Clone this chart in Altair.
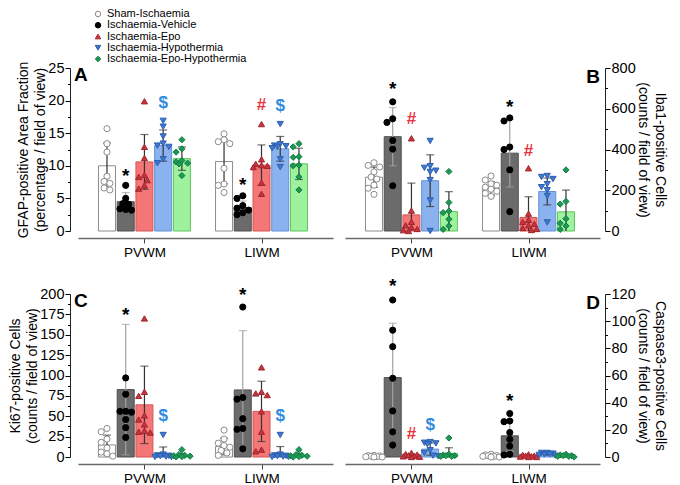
import altair as alt
import pandas as pd

GROUPS = ["PVWM", "LIWM"]
CONDS = ["Sham-Ischaemia", "Ischaemia-Vehicle", "Ischaemia-Epo",
         "Ischaemia-Hypothermia", "Ischaemia-Epo-Hypothermia"]

# ---- Panel A: GFAP-positive area fraction ----
A_PVWM_PTS = [[15.7, 13.4, 12.1, 8.4, 7.6, 7.3, 6.6, 6.3],
              [7.0, 5.0, 4.2, 4.1, 3.4, 3.3, 3.2],
              [19.9, 12.9, 11.2, 8.6, 8.3, 7.8, 7.0, 6.5],
              [16.9, 16.0, 14.5, 13.4, 13.1, 12.9, 11.0, 10.4],
              [14.0, 12.6, 12.1, 10.8, 10.6, 10.4, 10.3, 8.5]]
A_LIWM_PTS = [[14.9, 14.0, 13.7, 13.4, 9.6, 7.2, 7.0, 5.9],
              [5.4, 5.0, 3.9, 3.5, 3.2, 2.8, 2.5],
              [16.4, 11.0, 10.3, 10.1, 10.0, 9.8, 7.4, 5.7],
              [16.4, 13.3, 13.1, 13.0, 12.9, 12.7, 11.0, 9.8],
              [13.4, 12.9, 11.4, 11.3, 10.1, 10.0, 8.3, 6.3]]
A_MEAN = [[10.0, 4.5, 10.6, 13.1, 11.1], [10.65, 3.6, 10.1, 12.6, 10.3]]
A_SD = [[3.5, 1.4, 4.2, 2.4, 1.8], [3.4, 1.0, 3.1, 1.9, 2.4]]
A_SIG = [("PVWM", 1, "*", 9.1), ("PVWM", 3, "$", 19.6), ("LIWM", 1, "*", 7.6),
         ("LIWM", 2, "#", 19.4), ("LIWM", 3, "$", 19.1)]

# ---- Panel B: Iba1-positive cells ----
B_PVWM_PTS = [[335, 322, 314, 290, 265, 255, 225, 210, 180],
              [634, 551, 533, 444, 402, 222],
              [455, 100, 45, 28, 18, 10, 4, 0],
              [442, 318, 310, 296, 290, 250, 150, 0],
              [292, 140, 98, 90, 58, 25, 8]]
B_LIWM_PTS = [[270, 250, 232, 225, 215, 205, 195, 185, 170],
              [555, 540, 412, 400, 300, 95],
              [308, 85, 55, 45, 35, 28, 15, 10, 5],
              [270, 265, 255, 230, 215, 200, 172, 42],
              [300, 145, 132, 60, 38, 25, 8]]
B_MEAN = [[264, 463, 79, 247, 95], [209, 382, 66, 194, 94]]
B_SD = [[50, 143, 156, 127, 98], [33, 166, 102, 66, 107]]
B_SIG = [("PVWM", 1, "*", 716), ("PVWM", 2, "#", 551),
         ("LIWM", 1, "*", 629), ("LIWM", 2, "#", 392)]

# ---- Panel C: Ki67-positive cells ----
C_PVWM_PTS = [[35, 31, 22, 18, 11, 6, 4, 1],
              [97, 77, 56, 56, 55, 46, 36, 24],
              [170, 80, 75, 51, 46, 40, 32, 31, 30],
              [27, 3, 2, 1.5, 1, 0.5, 0, 0],
              [9, 3, 2, 1.5, 1, 0.5, 0]]
C_LIWM_PTS = [[33, 22, 17, 14, 12, 8, 5, 2],
              [184, 73, 71, 47, 35, 34, 10],
              [110, 80, 78, 76, 56, 31, 9, 7],
              [27, 3, 2, 1.5, 1, 0.5, 0, 0],
              [9, 3, 2, 1.5, 1, 0.5, 0]]
C_MEAN = [[14.8, 82.7, 64, 3.3, 2], [12.8, 82.3, 56, 2.5, 2]]
C_SD = [[12, 80, 47.5, 9, 2.5], [10.2, 72.7, 37, 10.3, 2.5]]
C_SIG = [("PVWM", 1, "*", 179), ("PVWM", 3, "$", 50),
         ("LIWM", 1, "*", 204), ("LIWM", 3, "$", 50)]

# ---- Panel D: Caspase3-positive cells ----
D_PVWM_PTS = [[1.2, 1, 0.8, 0.5, 0.3, 0.2, 0, 0],
              [115.6, 93.4, 81.2, 58, 33.9, 18.5, 8.8],
              [3, 2.2, 1.8, 1.2, 0.8, 0.5, 0.2, 0],
              [11, 10.5, 10, 9.5, 5, 3, 1, 0.5],
              [14, 2, 1.5, 1, 1, 0.5, 0.5]]
D_LIWM_PTS = [[2, 1.5, 1, 1, 0.5, 0.5, 0, 0],
              [32, 26.5, 26, 18, 13, 8, 2, 1.5],
              [2, 1.5, 1, 1, 0.5, 0.3, 0, 0],
              [3, 3, 2.5, 2, 2, 1.5, 1],
              [2, 1.5, 1, 1, 0.5, 0.5, 0]]
D_MEAN = [[0.5, 58.5, 1.2, 5.8, 2.6], [0.8, 15.6, 0.8, 2.1, 0.9]]
D_SD = [[0.4, 40, 1, 4.5, 4.2], [0.7, 11.4, 0.7, 0.7, 0.7]]
D_SIG = [("PVWM", 1, "*", 128.6), ("PVWM", 2, "#", 16.7), ("PVWM", 3, "$", 23.9),
         ("LIWM", 1, "*", 44.3)]

TITLES = {
    "A": ["GFAP-positive Area Fraction", "(percentage / field of view)"],
    "B": ["Iba1-positive Cells", "(counts / field of view)"],
    "C": ["Ki67-positive Cells", "(counts / field of view)"],
    "D": ["Caspase3-positive Cells", "(counts / field of view)"],
}
YMAX = {"A": 25, "B": 800, "C": 200, "D": 120}
YSTEP = {"A": 5, "B": 200, "C": 25, "D": 20}
YMINOR = {"A": 2.5, "B": 100, "C": 12.5, "D": 10}
ORIENT = {"A": "left", "B": "right", "C": "left", "D": "right"}

# ---- styles ----
BAR_FILL = ["#ffffff", "#6b6b6b", "#f47676", "#8ab2ee", "#9ef29e"]
BAR_STROKE = ["#8c8c8c", "#505050", "#d65555", "#6290d6", "#5cc45c"]
PT_FILL = ["#ffffff", "#000000", "#c9333d", "#3f78d0", "#1c9a55"]
PT_STROKE = ["#8c8c8c", "#000000", "#a0262f", "#2d5fae", "#137a42"]
PT_SHAPE = ["circle", "circle", "triangle-up", "triangle-down", "diamond"]
SIG_COLORS = {"#": "#e8323c", "$": "#2f8ae0"}

W, H = 255, 163
XDOM = [-1.28, 11.8]
GSTEP = 6.25
XPX = W / (XDOM[1] - XDOM[0])


def swarm(values, ypx, d=5.5):
    placed, offs = [], []
    cands = [0, -3, 3, -6, 6, -8.5, 8.5]
    for v in values:
        y = v * ypx
        best, best_d = 0, -1
        for c in cands:
            md = min([((c - px) ** 2 + (y - py) ** 2) ** 0.5 for px, py in placed] or [99])
            if md >= d:
                best = c
                break
            if md > best_d:
                best, best_d = c, md
        placed.append((best, y))
        offs.append(best)
    return offs


DATA = {
    "A": ((A_PVWM_PTS, A_LIWM_PTS), A_MEAN, A_SD, A_SIG),
    "B": ((B_PVWM_PTS, B_LIWM_PTS), B_MEAN, B_SD, B_SIG),
    "C": ((C_PVWM_PTS, C_LIWM_PTS), C_MEAN, C_SD, C_SIG),
    "D": ((D_PVWM_PTS, D_LIWM_PTS), D_MEAN, D_SD, D_SIG),
}

bar_rows, pt_rows, sig_rows = [], [], []
for key, (pts, means, sds, sigs) in DATA.items():
    ypx = H / YMAX[key]
    for gi, g in enumerate(GROUPS):
        for ci, c in enumerate(CONDS):
            m, s = means[gi][ci], sds[gi][ci]
            bar_rows.append(dict(panel=key, group=g, cond=c, xpos=gi * GSTEP + ci,
                                 mean=m, lo=max(m - s, 0), hi=m + s, lowcap=(m - s) > 0))
            vals = pts[gi][ci]
            for v, o in zip(vals, swarm(vals, ypx)):
                pt_rows.append(dict(panel=key, group=g, cond=c,
                                    xp=gi * GSTEP + ci + o / XPX, value=v))
    for g, ci, sym, y in sigs:
        sig_rows.append(dict(panel=key, sym=sym, xpos=GROUPS.index(g) * GSTEP + ci, y=y))

bars_df = pd.DataFrame(bar_rows)
pts_df = pd.DataFrame(pt_rows)
sig_df = pd.DataFrame(sig_rows)
leg_df = pd.DataFrame({"cond": CONDS})


def legend_layers():
    leg_y = alt.Y("cond:N", sort=CONDS, axis=None,
                  scale=alt.Scale(type="point", domain=CONDS, range=[-54, -9], padding=0))
    leg_pts = alt.Chart(leg_df).mark_point(size=30, strokeWidth=1, opacity=1, fillOpacity=1).encode(
        x=alt.value(20), y=leg_y,
        shape=alt.Shape("cond:N", scale=alt.Scale(domain=CONDS, range=PT_SHAPE), legend=None),
        fill=alt.Fill("cond:N", scale=alt.Scale(domain=CONDS, range=PT_FILL), legend=None),
        stroke=alt.Stroke("cond:N", scale=alt.Scale(domain=CONDS, range=PT_STROKE), legend=None),
    )
    leg_txt = alt.Chart(leg_df).mark_text(align="left", baseline="middle", fontSize=11,
                                          color="black").encode(
        x=alt.value(29), y=leg_y, text="cond:N")
    return [leg_pts, leg_txt]


def make_panel(key, with_legend=False):
    ymax, step, mstep, orient = YMAX[key], YSTEP[key], YMINOR[key], ORIENT[key]
    yoff = 8 if orient == "left" else 5
    majors = [float(step * i) for i in range(int(round(ymax / step)) + 1)]
    minors = [float(mstep * i) for i in range(int(round(ymax / mstep)) + 1)
              if abs((mstep * i) / step - round((mstep * i) / step)) > 1e-6]
    yscale = alt.Scale(domain=[0, ymax], nice=False, zero=True)
    xscale = alt.Scale(domain=XDOM, nice=False, zero=False)
    xaxis = alt.Axis(orient="bottom", values=[2.0, 2.0 + GSTEP],
                     labelExpr=f"datum.value < {GSTEP} ? '{GROUPS[0]}' : '{GROUPS[1]}'",
                     title=None, offset=7, tickSize=5, labelPadding=2, labelFontSize=13.5,
                     domainColor="#6a6a6a", domainWidth=1.5, tickColor="#444444", grid=False)
    ymajor = alt.Axis(orient=orient, values=majors, offset=yoff, tickSize=5, labelPadding=1,
                      title=TITLES[key], titlePadding=0, titleLineHeight=17, grid=False,
                      labelExpr="format(datum.value, 'd')")
    yminor = alt.Axis(orient=orient, values=minors, offset=yoff, tickSize=2.5, labels=False,
                      domain=False, title=None, grid=False)

    def X(field):
        return alt.X(field, scale=xscale, axis=xaxis)

    bsrc = alt.Chart(bars_df).transform_filter(alt.datum.panel == key)
    bars = bsrc.mark_bar(size=17, orient="vertical", strokeWidth=1).encode(
        x=X("xpos:Q"),
        y=alt.Y("mean:Q", scale=yscale, axis=ymajor),
        fill=alt.Fill("cond:N", scale=alt.Scale(domain=CONDS, range=BAR_FILL), legend=None),
        stroke=alt.Stroke("cond:N", scale=alt.Scale(domain=CONDS, range=BAR_STROKE), legend=None),
    )
    minor_layer = bsrc.mark_bar(size=1, orient="vertical", opacity=0).encode(
        x=X("xpos:Q"),
        y=alt.Y("mean:Q", scale=yscale, axis=yminor),
    )
    ecolor = alt.condition(alt.datum.cond == CONDS[1], alt.value("#a3a3a3"), alt.value("#333333"))
    err = bsrc.mark_rule(strokeWidth=1.2).encode(
        x=X("xpos:Q"),
        y=alt.Y("lo:Q", scale=yscale, axis=None), y2="hi:Q", color=ecolor)
    capt = bsrc.mark_tick(orient="horizontal", size=8, thickness=1.2).encode(
        x=X("xpos:Q"),
        y=alt.Y("hi:Q", scale=yscale, axis=None), color=ecolor)
    capb = bsrc.transform_filter(alt.datum.lowcap).mark_tick(
        orient="horizontal", size=8, thickness=1.2).encode(
        x=X("xpos:Q"),
        y=alt.Y("lo:Q", scale=yscale, axis=None), color=ecolor)
    points = alt.Chart(pts_df).transform_filter(alt.datum.panel == key).mark_point(
        size=38, strokeWidth=1, opacity=1, fillOpacity=1).encode(
        x=X("xp:Q"),
        y=alt.Y("value:Q", scale=yscale, axis=None),
        shape=alt.Shape("cond:N", scale=alt.Scale(domain=CONDS, range=PT_SHAPE), legend=None),
        fill=alt.Fill("cond:N", scale=alt.Scale(domain=CONDS, range=PT_FILL), legend=None),
        stroke=alt.Stroke("cond:N", scale=alt.Scale(domain=CONDS, range=PT_STROKE), legend=None),
    )
    ssrc = alt.Chart(sig_df).transform_filter(alt.datum.panel == key)
    star = ssrc.transform_filter(alt.datum.sym == "*").mark_text(
        fontSize=19, fontWeight="bold", baseline="middle", dy=4, color="black").encode(
        x=X("xpos:Q"),
        y=alt.Y("y:Q", scale=yscale, axis=None), text="sym:N")
    other = ssrc.transform_filter(alt.datum.sym != "*").mark_text(
        fontSize=17, fontWeight="bold", baseline="middle").encode(
        x=X("xpos:Q"),
        y=alt.Y("y:Q", scale=yscale, axis=None), text="sym:N",
        color=alt.Color("sym:N", scale=alt.Scale(domain=list(SIG_COLORS.keys()),
                                                 range=list(SIG_COLORS.values())), legend=None))
    if orient == "left":
        lab = alt.Chart(pd.DataFrame({"t": [key]})).mark_text(
            fontSize=19, fontWeight="bold", align="left", baseline="alphabetic").encode(
            text="t:N", x=alt.value(-4), y=alt.value(13))
    else:
        lab = alt.Chart(pd.DataFrame({"t": [key]})).mark_text(
            fontSize=19, fontWeight="bold", align="right", baseline="alphabetic").encode(
            text="t:N", x=alt.value(W), y=alt.value(15))
    layers = [bars, minor_layer, err, capt, capb, points, star, other, lab]
    if with_legend:
        layers += legend_layers()
    return alt.layer(*layers).resolve_scale(
        y="independent", fill="independent", stroke="independent", color="independent"
    ).resolve_axis(x="shared", y="independent").properties(width=W, height=H)


chart = alt.concat(
    make_panel("A", with_legend=True), make_panel("B"), make_panel("C"), make_panel("D"),
    columns=2, spacing=alt.RowColnumber(row=63, column=12), bounds="flush"
).properties(
    padding={"left": 0, "top": 0, "right": 2, "bottom": 0}
).configure(font="Liberation Sans").configure_view(stroke=None).configure_axis(
    labelFontSize=14.5, titleFontSize=14, titleFontWeight="normal",
    labelColor="black", titleColor="black", tickColor="black", domainColor="#222222",
    labelFont="Liberation Sans", titleFont="Liberation Sans"
)

chart.save("out.html", embed_options={"renderer": "svg", "actions": False})
